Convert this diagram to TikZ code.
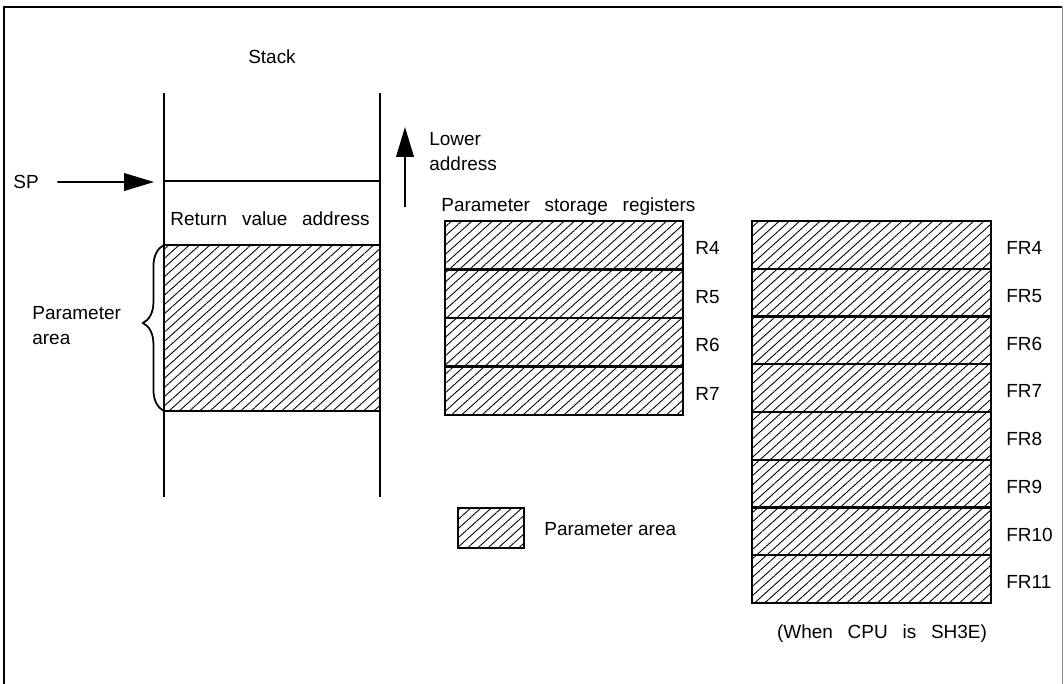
\documentclass[tikz,border=0pt]{standalone}
\usepackage{fontspec}
\setmainfont{Liberation Sans}
\usetikzlibrary{arrows.meta,patterns.meta,decorations.pathreplacing}

\begin{document}
\begin{tikzpicture}[x=0.02cm,y=-0.02cm,
    txt/.style={font=\fontsize{10.8}{14.2}\selectfont, inner sep=0pt},
    hatch/.style={draw, line width=1.2pt, pattern={Lines[angle=42,distance=3.9pt,line width=0.5pt]}},
    bigarrow/.style={line width=1pt, -{Triangle[length=17pt,width=10pt]}}]
    \useasboundingbox (0,0) rectangle (1064,683);
    \draw[line width=0.9pt] (4,700) -- (4,7) -- (1062,7);
    \draw[black!45, line width=0.5pt] (1062,7) -- (1062,700);

    % stack
    \coordinate (s1) at (164,93); \coordinate (s2) at (380,93);
    \coordinate (s3) at (164,497); \coordinate (s4) at (380,497);
    \draw[line width=1.1pt] (s1)--(s3); \draw[line width=1.1pt] (s2)--(s4);
    \draw[line width=1.1pt] (164,181)--(380,181);
    \draw[hatch] (164,245) rectangle (380,411);
    \node[txt, anchor=base] (stack) at (272,63.5) {Stack};
    \node[txt, anchor=base] (ret) at (270,225) {Return\enspace{} value\enspace{} address};

    \node[txt, anchor=base west] (sp) at (13,188.5) {SP};
    \coordinate (sphead) at (154,182);
    \draw[bigarrow, shorten <=10.5pt] (sp.east) -- (sphead);

    \coordinate (lowtail) at (405,207); \coordinate (lowhead) at (405,127);
    \draw[bigarrow] (lowtail) -- (lowhead);
    \node[txt, anchor=west, align=left] (lower) at (429,151.5) {Lower\\address};

    \draw[line width=1pt, decorate, decoration={brace, amplitude=12pt, aspect=0.53}] (164,411) -- (164,245);
    \node[txt, anchor=west, align=left] (parea) at (32,325.5) {Parameter\\area};

    % registers
    \node[txt, anchor=base west] (regs) at (441,211.5) {Parameter\enspace{} storage\enspace{} registers};
    \foreach \r [count=\k from 0] in {4,...,7} {
        \draw[hatch] (445,221+48.5*\k) rectangle (683,269.5+48.5*\k);
        \node[txt, anchor=west] (r\r) at (695,248.25+48.5*\k) {R\r};
    }
    \foreach \r [count=\k from 0] in {4,...,11} {
        \draw[hatch] (752,221+47.75*\k) rectangle (991,268.75+47.75*\k);
        \node[txt, anchor=west] (fr\r) at (1006,248+47.75*\k) {FR\r};
    }
    \node[txt, anchor=base] (cpu) at (882,638.5) {(When\enspace{} CPU\enspace{} is\enspace{} SH3E)};

    % legend
    \draw[hatch] (458,508) rectangle (524,548);
    \node[txt, anchor=base west] (legend) at (544,535.5) {Parameter area};
\end{tikzpicture}
\end{document}
